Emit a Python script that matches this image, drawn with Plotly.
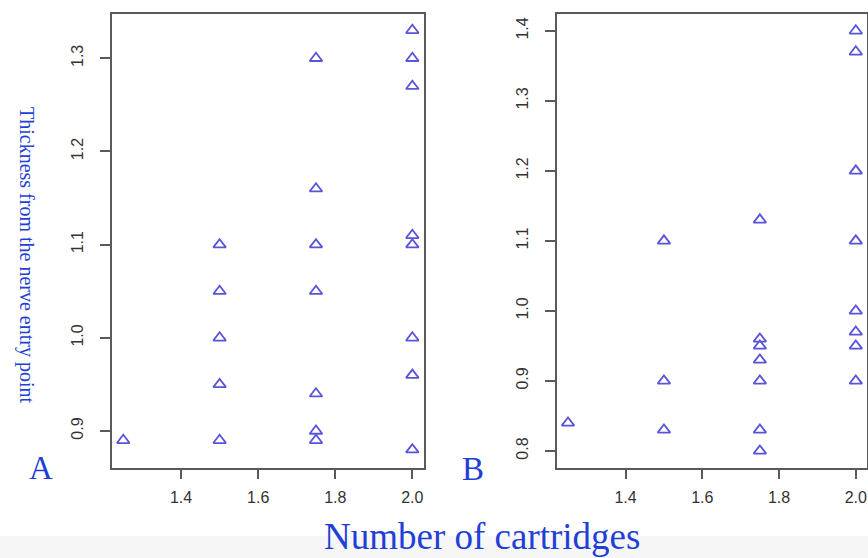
import plotly.graph_objects as go

# Panel A: thickness measured from the nerve entry point
a_cartridges = [1.25,
                1.5, 1.5, 1.5, 1.5, 1.5,
                1.75, 1.75, 1.75, 1.75, 1.75, 1.75, 1.75,
                2.0, 2.0, 2.0, 2.0, 2.0, 2.0, 2.0, 2.0]
a_thickness = [0.89,
               1.10, 1.05, 1.00, 0.95, 0.89,
               1.30, 1.16, 1.10, 1.05, 0.94, 0.90, 0.89,
               1.33, 1.30, 1.27, 1.11, 1.10, 1.00, 0.96, 0.88]

# Panel B
b_cartridges = [1.25,
                1.5, 1.5, 1.5,
                1.75, 1.75, 1.75, 1.75, 1.75, 1.75, 1.75,
                2.0, 2.0, 2.0, 2.0, 2.0, 2.0, 2.0, 2.0]
b_thickness = [0.84,
               1.10, 0.90, 0.83,
               1.13, 0.96, 0.95, 0.93, 0.90, 0.83, 0.80,
               1.40, 1.37, 1.20, 1.10, 1.00, 0.97, 0.95, 0.90]

x_ticks = [1.4, 1.6, 1.8, 2.0]
a_y_ticks = [0.9, 1.0, 1.1, 1.2, 1.3]
b_y_ticks = [0.8, 0.9, 1.0, 1.1, 1.2, 1.3, 1.4]

W, H = 868, 558
MARK = "#5a55d8"
FRAME = "#5a5a5a"
LABEL_BLUE = "#1f3fd6"


def px_x(v):
    return v / W


def px_y(v):
    return 1 - v / H


marker = dict(symbol="triangle-up-open", size=11, color=MARK,
              line=dict(color=MARK, width=1.8))

fig = go.Figure()
fig.add_trace(go.Scatter(x=a_cartridges, y=a_thickness, mode="markers",
                         marker=marker, xaxis="x", yaxis="y",
                         showlegend=False))
fig.add_trace(go.Scatter(x=b_cartridges, y=b_thickness, mode="markers",
                         marker=marker, xaxis="x2", yaxis="y2",
                         showlegend=False))

tick_font = dict(family="Liberation Sans, Arial, sans-serif", size=16,
                 color="#333333")
common_x = dict(showline=True, linecolor=FRAME, linewidth=2, mirror=True,
                showgrid=False, zeroline=False, ticks="outside", ticklen=9,
                tickwidth=1.6, tickcolor=FRAME, tickvals=x_ticks,
                ticktext=[f"{v:.1f}" for v in x_ticks], tickfont=tick_font,
                ticklabelstandoff=5, range=[1.22, 2.03])
common_y = dict(showline=True, linecolor=FRAME, linewidth=2, mirror=True,
                showgrid=False, zeroline=False, ticks="outside", ticklen=10,
                tickwidth=1.6, tickcolor=FRAME, tickangle=-90,
                tickfont=tick_font, ticklabelstandoff=10)

y_dom = [px_y(467.7), px_y(14)]

fig.update_layout(
    width=W, height=H,
    margin=dict(l=0, r=0, t=0, b=0),
    paper_bgcolor="white", plot_bgcolor="white",
    xaxis=dict(domain=[px_x(111.7), px_x(423.9)], anchor="y", **common_x),
    yaxis=dict(domain=y_dom, anchor="x", range=[0.8606, 1.3475],
               tickvals=a_y_ticks, ticktext=[f"{v:.1f}" for v in a_y_ticks],
               **common_y),
    xaxis2=dict(domain=[px_x(556.5), px_x(867.3)], anchor="y2", **common_x),
    yaxis2=dict(domain=y_dom, anchor="x2", range=[0.776, 1.424],
                tickvals=b_y_ticks, ticktext=[f"{v:.1f}" for v in b_y_ticks],
                **common_y),
    shapes=[dict(type="rect", xref="paper", yref="paper",
                 x0=0, x1=1, y0=0, y1=px_y(536), fillcolor="#f6f6f6",
                 line=dict(width=0), layer="below")],
)

serif = "Liberation Serif, Times New Roman, serif"
annotations = [
    dict(text="Thickness from the nerve entry point", x=px_x(27), y=px_y(255),
         textangle=90, yanchor="middle",
         font=dict(family=serif, size=20, color=LABEL_BLUE)),
    dict(text="A", x=px_x(41), y=px_y(468), yanchor="middle",
         font=dict(family=serif, size=33, color=LABEL_BLUE)),
    dict(text="B", x=px_x(473), y=px_y(469), yanchor="middle",
         font=dict(family=serif, size=33, color=LABEL_BLUE)),
    # axis title sits in the footer band, box resting on the bottom edge
    dict(text="Number of cartridges", x=px_x(482), y=0, yanchor="bottom",
         borderpad=0, font=dict(family=serif, size=37, color=LABEL_BLUE)),
]
for ann in annotations:
    ann.update(xref="paper", yref="paper", showarrow=False, xanchor="center")
fig.update_layout(annotations=annotations)

fig.write_html("out.html")
